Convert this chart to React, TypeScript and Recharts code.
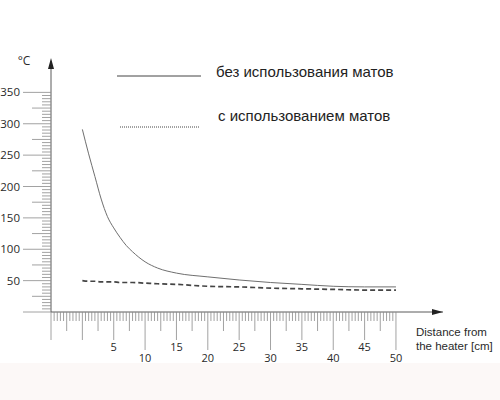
import { LineChart, Line, XAxis, YAxis, ReferenceDot, Legend } from "recharts"

// distance from the heater, cm
const distance = [0, 1, 2, 3, 4, 5, 6, 7, 8, 10, 12, 15, 20, 25, 30, 35, 40, 45, 50]
// temperature, °C
const withoutMats = [291, 252, 216, 180, 152, 134, 119, 106, 96, 80, 70, 62, 56, 51, 47, 44, 41, 40, 40]
const withMats = [50, 49, 49, 48, 48, 48, 47, 47, 47, 46, 45, 44, 41, 40, 38, 37, 36, 35, 35]

const seriesNames = ["без использования матов", "с использованием матов"]
const xTickLabels = [5, 10, 15, 20, 25, 30, 35, 40, 45, 50]
const yTickLabels = [50, 100, 150, 200, 250, 300, 350]

const data = distance.map((d, i) => ({ d, without: withoutMats[i], with: withMats[i] }))

const xTicks: number[] = []
for (let v = -10; v <= 100; v++) xTicks.push(v / 2)
const yTicks: number[] = []
for (let v = 0; v <= 350; v += 5) yTicks.push(v)

const AXIS = "#5a5a5a"
const TICK = "#8a8a8a"
const FONT = "'Open Sans', 'DejaVu Sans', sans-serif"
const SANS = "'Liberation Sans', Arial, sans-serif"

function XTick(props: any) {
  const { x, y, payload } = props
  const v = payload.value as number
  let len = 9
  if (v % 5 === 0) len = v % 10 === 0 && v > 0 ? 38 : 28
  else if (v % 2.5 === 0) len = 19
  const label = xTickLabels.includes(v)
  const odd = v % 10 !== 0
  return (
    <g>
      <line x1={x} y1={y} x2={x} y2={y + len} stroke={TICK} strokeWidth={0.8} />
      {label && (
        <text x={x} y={y + (odd ? 39 : 50)} textAnchor="middle" fontSize={11} fill="#2a2a2a" stroke="none" fontFamily={FONT}>
          {v}
        </text>
      )}
    </g>
  )
}

function YTick(props: any) {
  const { x, y, payload } = props
  const v = payload.value as number
  let len = 9
  if (v % 50 === 0) len = 28
  else if (v % 25 === 0) len = 19
  const label = yTickLabels.includes(v)
  return (
    <g>
      <line x1={x - len} y1={y} x2={x} y2={y} stroke={TICK} strokeWidth={0.8} />
      {label && (
        <text x={20} y={y + 4} textAnchor="end" fontSize={11.5} fill="#2a2a2a" stroke="none" fontFamily={FONT}>
          {v}
        </text>
      )}
    </g>
  )
}

function LegendBox(props: any) {
  const payload = props.payload || []
  return (
    <svg width={500} height={140} style={{ display: "block" }}>
      <line x1={117} y1={76} x2={201} y2={76} stroke="#444" strokeWidth={1} />
      <text x={216} y={77} fontSize={15} fill="#222" fontFamily={SANS}>
        {payload[0]?.value ?? seriesNames[0]}
      </text>
      <line x1={120} y1={127} x2={200} y2={127} stroke="#444" strokeWidth={1} strokeDasharray="1 1" />
      <text x={218} y={121} fontSize={15} fill="#222" fontFamily={SANS}>
        {payload[1]?.value ?? seriesNames[1]}
      </text>
    </svg>
  )
}

export default function App() {
  return (
    <div style={{ position: "absolute", left: 0, top: 0, width: 500, height: 400, background: "#fff" }}>
      <div style={{ position: "absolute", left: 0, top: 363, width: 500, height: 37, background: "#fcf8f7" }} />
      <div style={{ position: "absolute", left: 0, top: 0 }}>
        <LineChart width={500} height={400} data={data} margin={{ top: 61, right: 57, bottom: 40, left: 0 }}>
          <XAxis
            dataKey="d"
            type="number"
            domain={[-5, 57.5]}
            ticks={xTicks}
            interval={0}
            tick={<XTick />}
            tickLine={false}
            tickSize={0}
            tickMargin={0}
            height={48}
            axisLine={{ stroke: AXIS, strokeWidth: 1 }}
            label={{
              content: (p: any) => {
                const vb = p.viewBox
                return (
                  <text fontSize={11.5} fill="#2a2a2a" fontFamily={SANS}>
                    <tspan x={vb.x + vb.width - 27} y={vb.y + 24}>Distance from</tspan>
                    <tspan x={vb.x + vb.width - 27} y={vb.y + 38}>the heater [cm]</tspan>
                  </text>
                )
              },
            }}
          />
          <YAxis
            type="number"
            domain={[0, 400]}
            ticks={yTicks}
            interval={0}
            tick={<YTick />}
            tickLine={false}
            tickSize={0}
            tickMargin={0}
            width={51}
            axisLine={{ stroke: AXIS, strokeWidth: 1 }}
            label={{
              content: (p: any) => {
                const vb = p.viewBox
                return (
                  <text x={vb.x + 24} y={vb.y + 4} textAnchor="middle" fontSize={12} fill="#2a2a2a" fontFamily={FONT}>
                    °C
                  </text>
                )
              },
            }}
          />
          <Legend
            layout="horizontal"
            verticalAlign="middle"
            align="center"
            content={<LegendBox />}
            wrapperStyle={{ position: "absolute", left: 0, top: 0, width: 500, height: 140 }}
          />
          <ReferenceDot
            x={57.5}
            y={0}
            ifOverflow="visible"
            shape={(p: any) => (
              <polygon points={`${p.cx},${p.cy} ${p.cx - 11},${p.cy - 3} ${p.cx - 11},${p.cy + 3}`} fill="#222" />
            )}
          />
          <ReferenceDot
            x={-5}
            y={400}
            ifOverflow="visible"
            shape={(p: any) => (
              <polygon points={`${p.cx},${p.cy - 3} ${p.cx - 3},${p.cy + 8} ${p.cx + 3},${p.cy + 8}`} fill="#222" />
            )}
          />
          <Line
            type="monotone"
            dataKey="without"
            name={seriesNames[0]}
            stroke="#6f6f6f"
            strokeWidth={1}
            dot={false}
            isAnimationActive={false}
          />
          <Line
            type="monotone"
            dataKey="with"
            name={seriesNames[1]}
            stroke="#444"
            strokeWidth={1.7}
            strokeDasharray="5 3"
            dot={false}
            isAnimationActive={false}
          />
        </LineChart>
      </div>
    </div>
  )
}
